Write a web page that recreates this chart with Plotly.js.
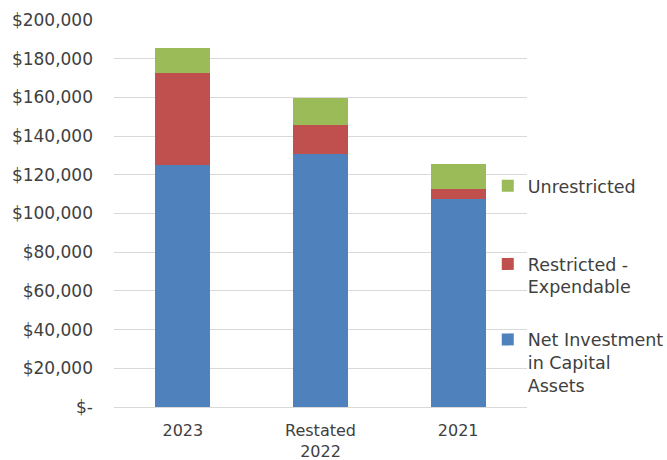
<!DOCTYPE html>
<html>
<head>
<meta charset="utf-8">
<script src="https://cdn.plot.ly/plotly-3.0.1.min.js"></script>
<style>html,body{margin:0;padding:0;background:#fff;}#chart{width:667px;height:460px;}</style>
</head>
<body>
<div id="chart"></div>
<script>
var categories = ["2023", "Restated<br>2022", "2021"];
var netInvestment = [124900, 130600, 107500];
var restricted = [47550, 15000, 5300];
var unrestricted = [13050, 14100, 12800];
var yTickVals = [0, 20000, 40000, 60000, 80000, 100000, 120000, 140000, 160000, 180000, 200000];
var yTickText = ["$-", "$20,000", "$40,000", "$60,000", "$80,000", "$100,000", "$120,000", "$140,000", "$160,000", "$180,000", "$200,000"];

var FONT = "DejaVu Sans, Verdana, sans-serif";
var TXT = "#404040";

var traces = [
  {type: "bar", name: "Net Investment<br>in Capital<br>Assets", x: categories, y: netInvestment,
   marker: {color: "#4F81BD"}, width: 0.4, legendgroup: "a", legendrank: 2, legend: "legend", hoverinfo: "y"},
  {type: "bar", name: "Restricted -<br>Expendable", x: categories, y: restricted,
   marker: {color: "#C0504D"}, width: 0.4, legendgroup: "b", legendrank: 1, legend: "legend", hoverinfo: "y"},
  {type: "bar", name: "Unrestricted", x: categories, y: unrestricted,
   marker: {color: "#9BBB59"}, width: 0.4, legendgroup: "c", legend: "legend2", hoverinfo: "y"}
];

var legendFont = {family: FONT, size: 17.5, color: TXT};

var layout = {
  width: 667, height: 460,
  margin: {l: 114, r: 140, t: 20, b: 53, pad: 0, autoexpand: false},
  barmode: "stack",
  paper_bgcolor: "#fff", plot_bgcolor: "#fff",
  font: {family: FONT, size: 17, color: TXT},
  xaxis: {
    type: "category", showgrid: false, showline: true, linecolor: "#D9D9D9", linewidth: 1,
    ticks: "", ticklabelstandoff: 9, tickfont: {family: FONT, size: 16, color: TXT}, fixedrange: true
  },
  yaxis: {
    range: [0, 200000], tickvals: yTickVals, ticktext: yTickText,
    showgrid: true, gridcolor: "#D9D9D9", gridwidth: 1, zeroline: false,
    showline: false, ticks: "", ticklabelstandoff: 20,
    tickfont: {family: FONT, size: 17, color: TXT}, fixedrange: true
  },
  showlegend: true,
  legend: {
    x: 0.905, xanchor: "left", y: 0.416, yanchor: "top",
    traceorder: "grouped", tracegroupgap: 27, valign: "top",
    font: legendFont, bgcolor: "rgba(0,0,0,0)", borderwidth: 0
  },
  legend2: {
    x: 0.905, xanchor: "left", y: 0.618, yanchor: "top",
    valign: "top", font: legendFont, bgcolor: "rgba(0,0,0,0)", borderwidth: 0
  }
};

Plotly.newPlot("chart", traces, layout, {displayModeBar: false, staticPlot: true});
</script>
</body>
</html>
